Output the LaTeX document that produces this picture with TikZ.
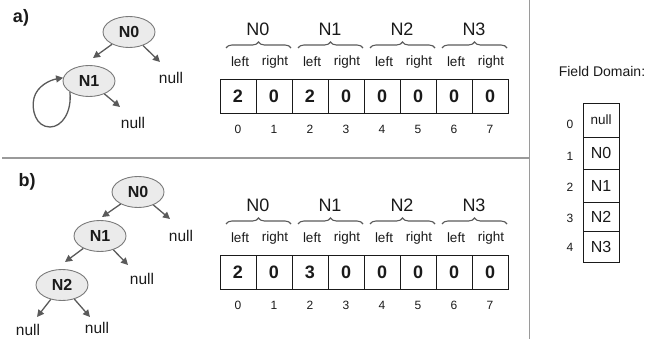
\documentclass[tikz,border=0pt]{standalone}
\usepackage{fontspec}
\setmainfont{Liberation Sans}
\usetikzlibrary{shapes.geometric,arrows.meta,decorations.pathreplacing}
\definecolor{arrgray}{HTML}{5A5A5A}
\definecolor{sepgray}{HTML}{9A9A9A}
\definecolor{nodefill}{HTML}{EBEBEB}
\definecolor{nodeline}{HTML}{7A7A7A}
\definecolor{txt}{HTML}{1A1A1A}
\tikzset{
  tnode/.style={ellipse, draw=nodeline, line width=0.9pt, fill=nodefill, minimum width=52pt, minimum height=31pt, inner sep=0pt, font=\fontsize{16}{16}\selectfont\bfseries, text=txt},
  arr/.style={draw=arrgray, line width=1.3pt, -{Triangle[length=7pt,width=7pt]}},
  nulltxt/.style={font=\fontsize{15.5}{15.5}\selectfont, text=txt, inner sep=0pt},
  cell/.style={draw=txt, line width=0.9pt, minimum width=36pt, minimum height=34pt, inner sep=0pt, outer sep=0pt, font=\fontsize{18}{18}\selectfont\bfseries, text=txt},
  idx/.style={font=\fontsize{12}{12}\selectfont, text=txt, inner sep=0pt},
  lr/.style={font=\fontsize{13.5}{13.5}\selectfont, text=txt, inner sep=0pt},
  nlab/.style={font=\fontsize{18}{18}\selectfont, text=txt, inner sep=0pt},
  brc/.style={draw=arrgray, line width=1.1pt, decorate, decoration={brace, amplitude=6pt}},
  sep/.style={draw=sepgray, line width=1.4pt},
  dcell/.style={draw=txt, line width=0.9pt, minimum width=36pt, inner sep=0pt, outer sep=0pt, font=\fontsize{16}{16}\selectfont, text=txt},
  plab/.style={font=\fontsize{18}{18}\selectfont\bfseries, text=txt, inner sep=0pt}
}
\begin{document}
\begin{tikzpicture}[x=1pt,y=-1pt]
\useasboundingbox (0,0) rectangle (647,339);
% separators
\draw[sep] (529.5,0) -- (529.5,339);
\draw[sep] (2,158) -- (529.5,158);

% ---------- part a ----------
\node[plab] (la) at (21,18) {a)};
\node[tnode] (a0) at (129,32) {N0};
\node[tnode] (a1) at (89,81) {N1};
\node[nulltxt] (a0n) at (171,78) {null};
\node[nulltxt] (a1n) at (133,123) {null};
\coordinate (ta01) at (93,58);
\coordinate (ta0n) at (160,62);
\coordinate (ta1n) at (120,107);
\draw[arr] (a0) -- (ta01);
\draw[arr] (a0) -- (ta0n);
\draw[arr] (a1) -- (ta1n);
\draw[arr] (a1.210) .. controls (72,112) and (62,127) .. (50,127)
  .. controls (36,127) and (31,110) .. (34,98)
  .. controls (37,86) and (50,80) .. (a1.173);

% ---------- part b ----------
\node[plab] (lb) at (27,182) {b)};
\node[tnode] (b0) at (138,192) {N0};
\node[tnode] (b1) at (100,236) {N1};
\node[tnode] (b2) at (62,285) {N2};
\node[nulltxt] (b0n) at (181,236) {null};
\node[nulltxt] (b1n) at (142,279) {null};
\node[nulltxt] (b2l) at (28,330) {null};
\node[nulltxt] (b2r) at (97,328) {null};
\coordinate (tb01) at (102,217);
\coordinate (tb0n) at (170,219);
\coordinate (tb12) at (65,262);
\coordinate (tb1n) at (128,265);
\coordinate (tb2l) at (37,317);
\coordinate (tb2r) at (90,317);
\draw[arr] (b0) -- (tb01);
\draw[arr] (b0) -- (tb0n);
\draw[arr] (b1) -- (tb12);
\draw[arr] (b1) -- (tb1n);
\draw[arr] (b2) -- (tb2l);
\draw[arr] (b2) -- (tb2r);

% ---------- arrays ----------
\foreach \pre/\yo/\vals in {a/0/{2,0,2,0,0,0,0,0}, b/176/{2,0,3,0,0,0,0,0}}{
  \foreach \v [count=\i from 0] in \vals {
    \node[cell] (c\pre\i) at (238+36*\i, 96+\yo) {\v};
    \node[idx] (i\pre\i) at (238+36*\i, 129+\yo) {\i};
  }
  \foreach \k in {0,1,2,3}{
    \node[lr] (l\pre\k) at (240+72*\k, 62+\yo) {left};
    \node[lr] (r\pre\k) at (275+72*\k, 62+\yo) {right};
    \node[nlab] (n\pre\k) at (258+72*\k, 29+\yo) {N\k};
    \draw[brc] (226+72*\k, 48+\yo) -- (291+72*\k, 48+\yo);
  }
}

% ---------- field domain ----------
\node[font=\fontsize{14}{14}\selectfont, text=txt, inner sep=0pt] (fd) at (602,71) {Field Domain:};
\node[dcell, minimum height=34pt, font=\fontsize{13.5}{13.5}\selectfont] (d0) at (601,120) {null};
\node[dcell, minimum height=32pt] (d1) at (601,153) {N0};
\node[dcell, minimum height=33pt] (d2) at (601,185.5) {N1};
\node[dcell, minimum height=29pt] (d3) at (601,216.5) {N2};
\node[dcell, minimum height=31pt] (d4) at (601,246.5) {N3};
\node[idx] (di0) at (570,124) {0};
\node[idx] (di1) at (570,156) {1};
\node[idx] (di2) at (570,187) {2};
\node[idx] (di3) at (570,218) {3};
\node[idx] (di4) at (570,247) {4};
\end{tikzpicture}
\end{document}
